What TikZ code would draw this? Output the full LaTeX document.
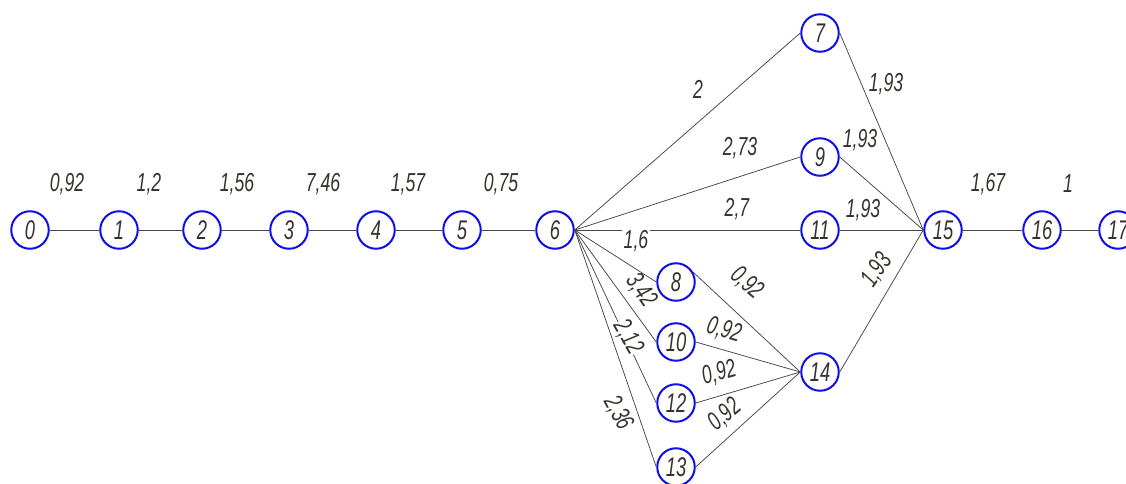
\documentclass[tikz,border=0pt]{standalone}
\usepackage{fontspec}
\newfontfamily\gost{Liberation Sans}[FakeStretch=0.68]
\definecolor{nodeblue}{RGB}{15,15,235}
\definecolor{edgecol}{RGB}{70,70,70}
\definecolor{txt}{RGB}{55,50,45}
\begin{document}
\begin{tikzpicture}[x=1pt,y=-1pt,
  v/.style={circle,draw=nodeblue,line width=2pt,minimum size=37.5pt,inner sep=0pt,
    font=\gost\itshape\fontsize{27}{27}\selectfont,text=txt},
  e/.style={draw=edgecol,line width=0.75pt},
  lb/.style={font=\gost\itshape\fontsize{26}{26}\selectfont,text=txt,inner sep=1pt},
  gap/.style={lb,fill=white}]
\clip (0,0) rectangle (1126,484);
\useasboundingbox (0,0) rectangle (1126,484);
% nodes
\node[v] (n0) at (30,230) {0};
\node[v] (n1) at (119,230) {1};
\node[v] (n2) at (202,230) {2};
\node[v] (n3) at (289,230) {3};
\node[v] (n4) at (376,230) {4};
\node[v] (n5) at (462,230) {5};
\node[v] (n6) at (555,230) {6};
\node[v] (n7) at (820,33) {7};
\node[v] (n9) at (820,157) {9};
\node[v] (n11) at (820,230) {11};
\node[v] (n8) at (676,282) {8};
\node[v] (n10) at (676,342) {10};
\node[v] (n12) at (676,403) {12};
\node[v] (n13) at (676,467) {13};
\node[v] (n14) at (820,372) {14};
\node[v] (n15) at (943,230) {15};
\node[v] (n16) at (1042,230) {16};
\node[v] (n17) at (1118,230) {17};
% edges
\draw[e] (n0) -- (n1);
\draw[e] (n1) -- (n2);
\draw[e] (n2) -- (n3);
\draw[e] (n3) -- (n4);
\draw[e] (n4) -- (n5);
\draw[e] (n5) -- (n6);
\draw[e] (n6.east) -- (n7.west);
\draw[e] (n6.east) -- (n9.west);
\draw[e] (n6.east) -- (n11.west);
\draw[e] (n6.east) -- (n8.west);
\draw[e] (n6.east) -- (n10.west);
\draw[e] (n6.east) -- (n12.west);
\draw[e] (n6.east) -- (n13.west);
\draw[e] (n7.east) -- (n15.west);
\draw[e] (n9.east) -- (n15.west);
\draw[e] (n11.east) -- (n15.west);
\draw[e] (n14.east) -- (n15.west);
\draw[e] (n8.30) -- (n14.west);
\draw[e] (n10.east) -- (n14.west);
\draw[e] (n12.east) -- (n14.west);
\draw[e] (n13.east) -- (n14.west);
\draw[e] (n15) -- (n16);
\draw[e] (n16) -- (n17);
% labels
\node[lb] (l01) at (67,184) {0,92};
\node[lb] (l12) at (149,184) {1,2};
\node[lb] (l23) at (237,184) {1,56};
\node[lb] (l34) at (323,184) {7,46};
\node[lb] (l45) at (408,184) {1,57};
\node[lb] (l56) at (501,184) {0,75};
\node[lb] (l1516) at (988,184) {1,67};
\node[lb] (l1617) at (1068,184) {1};
\node[lb] (l67) at (698,89) {2};
\node[lb] (l69) at (740,148) {2,73};
\node[lb] (l611) at (737,209) {2,7};
\node[gap,inner sep=2pt] (l6-11b) at (636,241) {1,6};
\node[gap,inner sep=1pt] (l715) at (886,84) {1,93};
\node[lb] (l915) at (860,140) {1,93};
\node[lb] (l1115) at (863,210) {1,93};
\node[lb,rotate=55] (l1415) at (877,270) {1,93};
\node[lb,rotate=-55] (l610) at (641,290) {3,42};
\node[gap,rotate=-60,inner sep=0.5pt] (l612) at (628,337) {2,12};
\node[lb,rotate=-62] (l613) at (618,413) {2,36};
\node[lb,rotate=-40] (l814) at (747,283) {0,92};
\node[lb,rotate=-16] (l1014) at (724,330) {0,92};
\node[lb,rotate=15] (l1214) at (719,373) {0,92};
\node[lb,rotate=40] (l1314) at (725,415) {0,92};
\end{tikzpicture}
\end{document}
